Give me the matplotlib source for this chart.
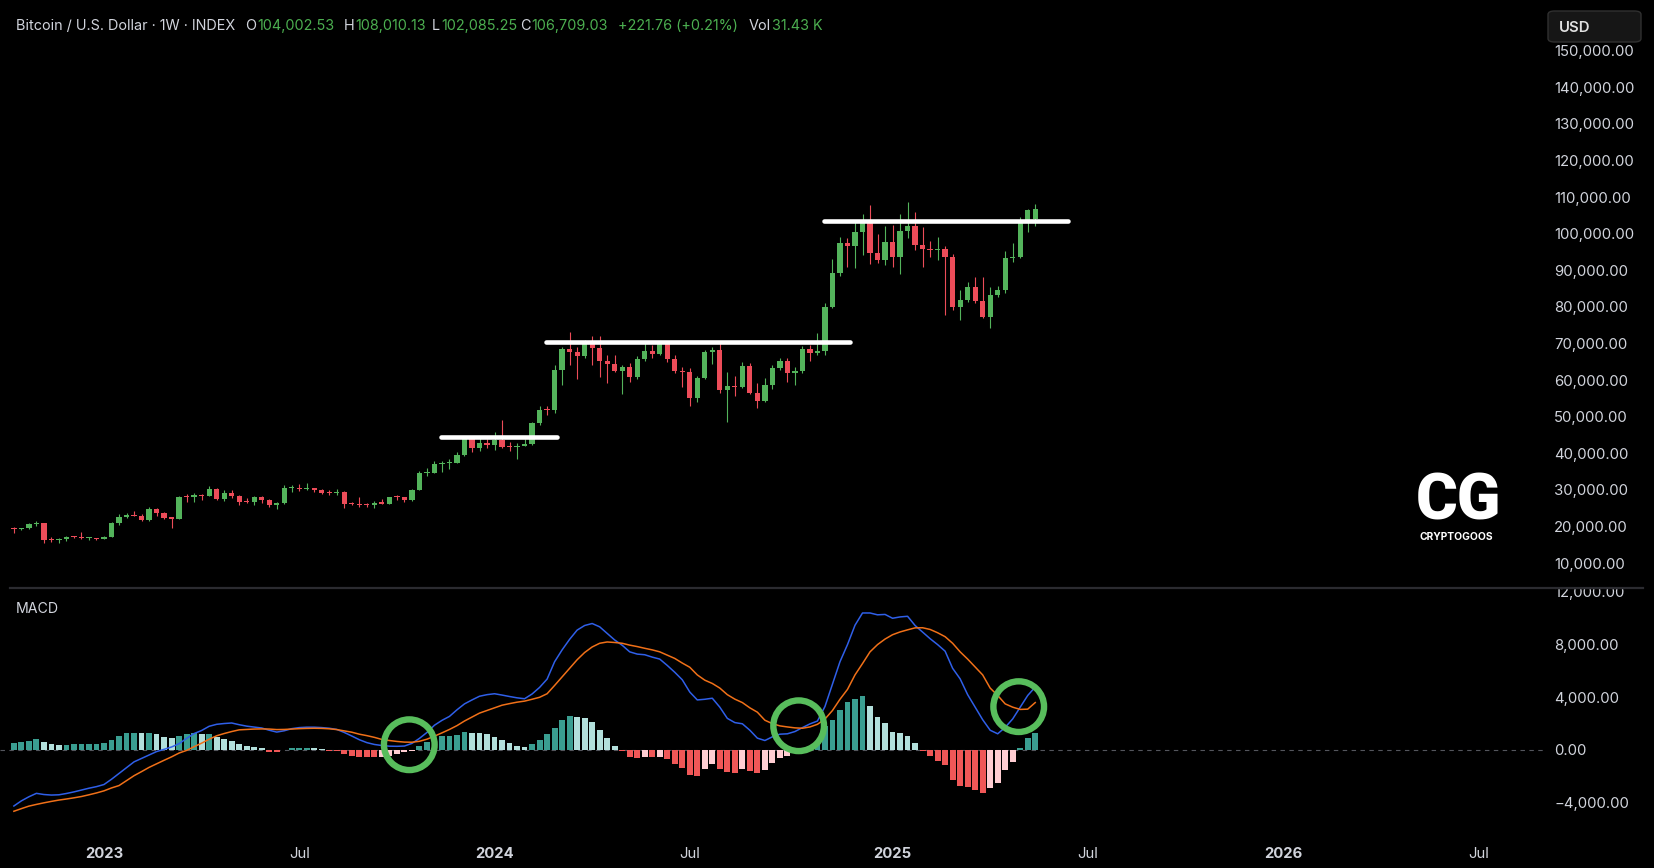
import numpy as np
import pandas as pd
import matplotlib
matplotlib.use('Agg')
import matplotlib.pyplot as plt
from matplotlib.patches import FancyBboxPatch, Rectangle
from matplotlib.lines import Line2D

plt.rcParams['font.family'] = ['Inter', 'DejaVu Sans']

# weekly candles, first bar = week of 2022-10-10
first_week = '2022-10-10'
opens = [19420, 19200, 19570, 20600, 20900, 16330, 16280, 16450, 17100, 17080, 16750, 16840,
         16620, 17130, 20880, 22700, 23030, 22930, 21800, 24640, 23560, 22430, 22150, 28000,
         27990, 28470, 28330, 30300, 27590, 29230, 28430, 26780, 26750, 28070, 27100, 25880,
         26340, 30470, 30590, 30150, 30250, 30080, 29200, 29050, 29420, 26100, 26010, 25800,
         25750, 26530, 26250, 27970, 27920, 27150, 29980, 34500, 34730, 37060, 37370, 37450,
         39450, 43800, 41380, 42700, 42280, 43600, 41700, 41580, 42030, 42580, 48300, 51800,
         51700, 62700, 68400, 67750, 66560, 70020, 68840, 65200, 64290, 62460, 63650, 60740,
         65650, 68020, 67100, 70020, 65650, 62560, 62300, 55000, 60460, 67750, 68200, 57270,
         58500, 58200, 63830, 56540, 54360, 58640, 63200, 65200, 62000, 62500, 68390, 67300,
         67900, 80040, 89150, 97340, 96710, 100530, 103720, 94610, 92790, 97800, 93700, 100700,
         102080, 96890, 95800, 95500, 95700, 93700, 80040, 81860, 85500, 81680, 77310, 83230,
         84600, 93250, 93700, 103260, 104002.53]
highs = [19950, 19700, 21000, 21470, 21050, 17180, 16780, 17420, 17400, 18390, 17000, 16970,
         17400, 21260, 23370, 23800, 24250, 23450, 25250, 25130, 23900, 22600, 28400, 28850,
         29200, 28800, 31000, 30500, 30020, 29850, 28640, 27650, 28450, 28450, 27400, 26800,
         31430, 31280, 31500, 31800, 30400, 30100, 30050, 30250, 29680, 26800, 28150, 26400,
         26900, 27480, 28050, 28580, 28000, 30350, 35200, 35950, 37950, 37950, 38400, 40250,
         44700, 43900, 44300, 43800, 45900, 48970, 43200, 42800, 43900, 48500, 52800, 52950,
         64000, 69000, 73000, 68900, 71000, 72000, 72000, 66800, 66800, 64100, 64700, 66500,
         70030, 69500, 70200, 70500, 66800, 63500, 63200, 61000, 68300, 69000, 70000, 62300,
         61100, 64900, 64700, 59300, 60500, 64100, 65900, 65900, 63650, 69300, 69500, 72900,
         81000, 93100, 99000, 98700, 103500, 105250, 107800, 99900, 102000, 102300, 105300, 108700,
         105800, 101900, 98100, 99000, 96500, 94500, 84600, 86900, 88200, 88200, 85500, 85690,
         95340, 97350, 104500, 106630, 108010.13]
lows = [18190, 18900, 19250, 20050, 15600, 15800, 15480, 16000, 16870, 16500, 16400, 16330,
        16540, 17000, 20400, 22300, 22750, 21350, 21400, 22800, 21900, 19550, 21900, 26600,
        26550, 27250, 28200, 27130, 26940, 27650, 25810, 26330, 25870, 26500, 25350, 24800,
        26250, 29500, 29700, 29950, 29500, 28900, 28600, 28700, 25170, 25800, 25350, 25350,
        24900, 26000, 26000, 27200, 26550, 26850, 29850, 33900, 34500, 34800, 35650, 37250,
        39300, 40250, 40550, 41450, 40750, 41500, 40600, 38500, 41900, 42250, 47700, 50500,
        50900, 58700, 64100, 60200, 66000, 64100, 60740, 59100, 62200, 56100, 59550, 60200,
        65300, 66000, 66900, 64800, 62000, 58000, 52900, 54000, 60190, 64500, 56360, 48620,
        55600, 57800, 56200, 52260, 54000, 57500, 62700, 59550, 58640, 62000, 65100, 66800,
        66800, 79800, 88500, 90800, 90600, 94200, 91700, 92000, 91500, 90800, 89000, 98700,
        95500, 90800, 93700, 92800, 77800, 79000, 76400, 81400, 81100, 76850, 74120, 82800,
        83870, 92340, 93400, 100530, 102085.25]
closes = [19200, 19570, 20600, 20900, 16330, 16280, 16450, 17100, 17080, 16750, 16840, 16620,
          17130, 20880, 22700, 23030, 22930, 21800, 24640, 23560, 22430, 22150, 28000, 27990,
          28470, 28330, 30300, 27590, 29230, 28430, 26780, 26750, 28070, 27100, 25880, 26340,
          30470, 30590, 30150, 30250, 30080, 29200, 29050, 29420, 26100, 26010, 25800, 25750,
          26530, 26250, 27970, 27920, 27150, 29980, 34500, 34730, 37060, 37370, 37450, 39450,
          43800, 41380, 42700, 42280, 43600, 41700, 41580, 42030, 42580, 48300, 51800, 51700,
          62700, 68400, 67750, 66560, 70020, 68840, 65200, 64290, 62460, 63650, 60740, 65650,
          68020, 67100, 70020, 65650, 62560, 62300, 55000, 60460, 67750, 68200, 57270, 58500,
          58200, 63830, 56540, 54360, 58640, 63200, 65200, 62000, 62500, 68390, 67300, 67900,
          80040, 89150, 97340, 96710, 100530, 103720, 94610, 92790, 97800, 93700, 100700, 102080,
          96890, 95800, 95500, 95700, 93700, 80040, 81860, 85500, 81680, 77310, 83230, 84600,
          93250, 93700, 103260, 106487.27, 106709.03]
last_volume = '31.43 K'

# MACD (12, 26, 9)
macd_line = [-4250, -3860, -3550, -3290, -3380, -3420, -3400, -3300, -3180, -3040, -2900, -2780,
             -2620, -2220, -1780, -1330, -900, -640, -380, -120, 50, 230, 480, 880,
             1250, 1480, 1800, 1950, 2010, 2050, 1920, 1810, 1740, 1670, 1500, 1360,
             1460, 1620, 1700, 1730, 1730, 1700, 1650, 1560, 1330, 1060, 780, 560,
             420, 340, 290, 280, 300, 500, 880, 1330, 1880, 2250, 2550, 3050,
             3500, 3800, 4080, 4200, 4270, 4170, 4060, 3960, 3890, 4250, 4750, 5380,
             6700, 7600, 8400, 9100, 9450, 9600, 9350, 8850, 8350, 7950, 7450, 7280,
             7230, 7050, 6900, 6420, 5900, 5330, 4400, 3800, 3850, 3930, 3250, 2400,
             2080, 1990, 1500, 900, 720, 1000, 1200, 1230, 1400, 1700, 1980, 2200,
             3300, 5000, 6700, 8000, 9470, 10400, 10400, 10260, 10290, 10000, 10100, 10150,
             9450, 8950, 8450, 8000, 7500, 6200, 5400, 4200, 3250, 2300, 1500, 1230,
             1720, 2360, 3250, 4140, 4780]
signal_line = [-4650, -4450, -4260, -4130, -4010, -3900, -3800, -3720, -3630, -3530, -3400, -3260,
               -3100, -2880, -2700, -2330, -1950, -1640, -1320, -1050, -780, -520, -230, -30,
               250, 520, 820, 1080, 1250, 1400, 1530, 1560, 1590, 1600, 1590, 1550,
               1560, 1590, 1620, 1640, 1650, 1640, 1610, 1550, 1450, 1350, 1200, 1090,
               960, 800, 720, 650, 600, 590, 660, 820, 1050, 1300, 1560, 1850,
               2200, 2500, 2800, 3000, 3200, 3400, 3520, 3630, 3710, 3850, 4000, 4270,
               4900, 5550, 6200, 6850, 7400, 7820, 8100, 8200, 8160, 8100, 7960, 7850,
               7720, 7600, 7450, 7200, 6950, 6600, 6280, 5700, 5300, 5050, 4700, 4200,
               3860, 3600, 3200, 2870, 2260, 2000, 1830, 1750, 1680, 1650, 1750, 1950,
               2350, 3000, 3850, 4600, 5700, 6560, 7450, 8000, 8420, 8750, 8960, 9120,
               9270, 9280, 9150, 8900, 8600, 8100, 7450, 6900, 6300, 5700, 4700, 4140,
               3500, 3250, 3080, 3100, 3600]
macd_hist = [510, 580, 710, 840, 580, 460, 380, 380, 430, 460, 480, 480,
             530, 790, 1090, 1270, 1300, 1270, 1270, 1220, 1020, 890, 1090, 1190,
             1270, 1190, 1250, 970, 840, 710, 460, 280, 200, 130, -130, -180,
             30, 130, 150, 150, 130, 50, -50, -80, -300, -430, -510, -560,
             -560, -510, -430, -300, -180, -50, 330, 640, 890, 1040, 1090, 1170,
             1350, 1300, 1270, 1220, 1020, 790, 510, 330, 200, 430, 790, 1200,
             1650, 2310, 2570, 2470, 2450, 2110, 1550, 910, 330, -50, -560, -610,
             -510, -560, -510, -690, -1070, -1370, -1900, -1960, -1450, -1070, -1450, -1650,
             -1750, -1450, -1580, -1750, -1520, -1020, -610, -430, -230, -100, 200, 710,
             1800, 2240, 3070, 3680, 3890, 4090, 3330, 2490, 2060, 1400, 1300, 1090,
             530, -50, -430, -810, -1140, -2260, -2770, -2840, -3020, -3230, -2920, -2510,
             -1520, -940, 130, 890, 1300]

# hand-drawn levels (bar index from first bar) and circled crossovers
level_price = [44300, 70470, 103500]
level_from = [56.9, 70.9, 107.9]
level_to = [72.3, 111.3, 140.3]
ring_bar = [52.65, 104.5, 133.8]
ring_value = [400, 1840, 3290]

W, H = 1654, 868
BAR_PX = 7.51          # pixel spacing of one weekly bar
X2023 = 104            # pixel x of first 2023 bar
PLOT_R = 1545          # right edge of plotting area
n = len(closes)
k = np.arange(n)

o = np.array(opens); hi = np.array(highs); lo = np.array(lows); c = np.array(closes)
up = c >= o
GREEN = '#53b35b'
RED = '#ec4c59'
TXT = '#d1d4dc'

fig = plt.figure(figsize=(W / 100, H / 100), dpi=100, facecolor='black')
ax = fig.add_axes([0, 1 - 588 / H, PLOT_R / W, 588 / H])
axm = fig.add_axes([0, 1 - 832 / H, PLOT_R / W, (832 - 588) / H], sharex=ax)

for a in (ax, axm):
    a.set_facecolor('black')
    for s in a.spines.values():
        s.set_visible(False)
    a.yaxis.tick_right()
    a.tick_params(axis='y', length=0, pad=6.5, colors=TXT)
    a.tick_params(axis='x', length=0, colors=TXT)

# candles
cols = np.where(up, GREEN, RED)
ax.vlines(k, lo, hi, colors=cols, lw=0.8, zorder=2)
body_lo = np.minimum(o, c)
body_h = np.maximum(np.abs(c - o), 300)
ax.bar(k, body_h, bottom=body_lo, width=0.7, color=cols, lw=0, zorder=3)

for p, a0, a1 in zip(level_price, level_from, level_to):
    ax.plot([a0, a1], [p, p], color='white', lw=3.3, solid_capstyle='round', zorder=4)

# MACD pane
hist = np.array(macd_hist)
prev = np.r_[hist[0], hist[:-1]]
hcols = np.where(hist >= 0, np.where(hist >= prev, '#3a9e91', '#b2dfdb'),
                 np.where(hist > prev, '#ffcdd2', '#f05757'))
axm.axhline(0, color='#787b86', lw=0.8, ls=(0, (4, 4)), alpha=0.7, zorder=0)
axm.bar(k, hist, width=0.78, color=hcols, lw=0, zorder=1)
axm.plot(k, macd_line, color='#2f5fe8', lw=1.1, zorder=2)
axm.plot(k, signal_line, color='#f07018', lw=1.1, zorder=2)
axm.scatter(ring_bar, ring_value, s=1330, facecolors='none', edgecolors='#58bd5c',
            linewidths=4.6, zorder=5, clip_on=False)

# y labels
renderer = fig.canvas.get_renderer()
probe = fig.text(0, 0, '150,000.00', fontsize=10)
lab_size = 10 * 81 / probe.get_window_extent(renderer).width
probe.remove()

pticks = np.arange(10000, 150001, 10000)
ax.set_yticks(pticks)
ax.set_yticklabels([f'{v:,.2f}' for v in pticks], fontsize=lab_size)
mticks = [-4000, 0, 4000, 8000, 12000]
axm.set_yticks(mticks)
axm.set_yticklabels([f'{v:,.2f}'.replace('-', '\u2212') for v in mticks], fontsize=lab_size)

# time axis (bar-indexed, labels on first bar of each year / July)
k0 = 12 - X2023 / BAR_PX
k1 = k0 + PLOT_R / BAR_PX
weeks = pd.date_range(first_week, periods=int(k1) + 1, freq='W-MON')
tpos, tlab = [], []
for j in range(1, len(weeks)):
    if weeks[j].year != weeks[j - 1].year:
        tpos.append(j); tlab.append(str(weeks[j].year))
    elif weeks[j].month == 7 and weeks[j - 1].month == 6:
        tpos.append(j); tlab.append('Jul')
ax.tick_params(labelbottom=False)
axm.set_xticks(tpos)
axm.set_xticklabels(tlab, fontsize=lab_size)
axm.tick_params(axis='x', pad=10.5)
for t in axm.get_xticklabels():
    if t.get_text() != 'Jul':
        t.set_fontweight('bold')

ax.set_xlim(k0, k1)
ax.set_ylim(3180, 163825)
axm.set_ylim(-6224, 12296)

# pane separator, covering the clipped 12,000 label top
fig.add_artist(Rectangle((PLOT_R / W, 1 - 588 / H), (W - PLOT_R) / W, 14 / H,
                         color='black', zorder=10))
fig.add_artist(Line2D([10 / W, 1643 / W], [1 - 588 / H] * 2, color='#2b2b30', lw=1.6, zorder=11))

fig.text(16 / W, 1 - 609 / H, 'MACD', color=TXT, fontsize=lab_size * 0.95, va='center')

# header
def put(x, s, color, size):
    t = fig.text(x / W, 1 - 26 / H, s, color=color, fontsize=size, va='center', ha='left')
    return t.get_window_extent(renderer).x1

probe = fig.text(0, 0, 'Bitcoin / U.S. Dollar \u00b7 1W \u00b7 INDEX', fontsize=10)
hsize = 10 * 221 / probe.get_window_extent(renderer).width
probe.remove()
put(16, 'Bitcoin / U.S. Dollar \u00b7 1W \u00b7 INDEX', TXT, hsize)
HGREEN = '#4caf50'
for x, lbl, val in [(245, 'O', o[-1]), (344, 'H', hi[-1]), (432, 'L', lo[-1]), (520, 'C', c[-1])]:
    x1 = put(x, lbl, TXT, hsize)
    put(x1 + 1, f'{val:,.2f}', HGREEN, hsize)
chg = c[-1] - c[-2]
put(618, f'{chg:+,.2f} ({chg / c[-2] * 100:+.2f}%)', HGREEN, hsize)
x1 = put(749, 'Vol', TXT, hsize)
put(x1 + 1, last_volume, HGREEN, hsize)

# currency box
fig.add_artist(FancyBboxPatch((1548 / W, 1 - 42 / H), 93 / W, 31 / H,
                              boxstyle='round,pad=0,rounding_size=0.004',
                              facecolor='#161616', edgecolor='#303030', lw=1, zorder=12))
fig.text(1559 / W, 1 - 28 / H, 'USD', color='#e0e0e0', fontsize=lab_size, fontweight='semibold',
         va='center', zorder=13)

# watermark logo
fig.text(1458 / W, 1 - 502 / H, 'CG', color='white', fontsize=46, fontweight='black',
         ha='center', va='center', family=['Roboto', 'DejaVu Sans'])
fig.text(1456 / W, 1 - 537 / H, 'CRYPTOGOOS', color='white', fontsize=7.4, fontweight='bold',
         ha='center', va='center')

fig.savefig('out.png', dpi=100, facecolor='black')
